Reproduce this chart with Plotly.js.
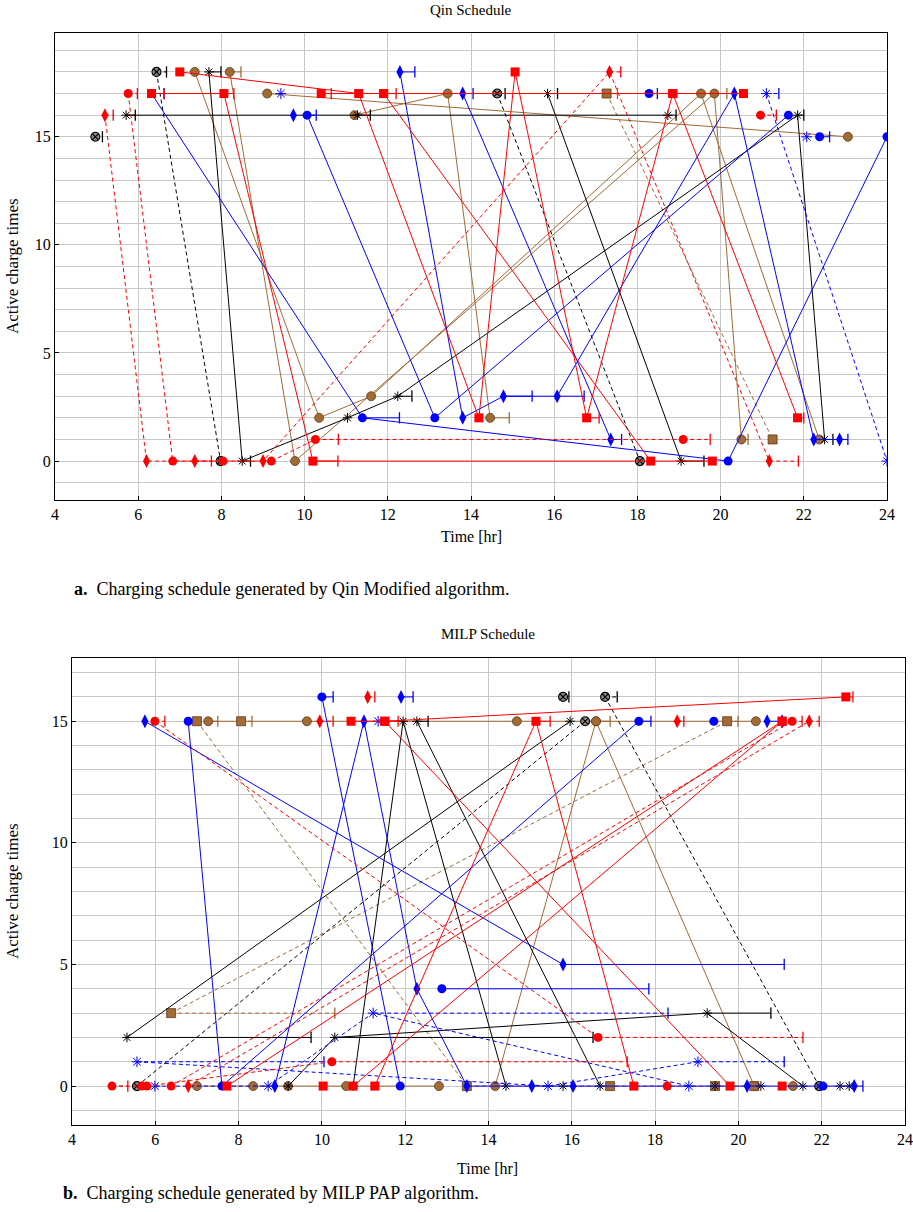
<!DOCTYPE html>
<html>
<head>
<meta charset="utf-8">
<script src="https://cdn.plot.ly/plotly-3.0.1.min.js"></script>
<style>
  body { margin: 0; background: #fff; }
  #chart { width: 913px; height: 1212px; }
</style>
</head>
<body>
<div id="chart"></div>
<script>
// Charging schedules, x = time [hr], y = active charge times, e = charge duration bar

// Qin Modified schedule

var qRedDiaX = [5.2, 6.2, 7.36, 9.0, 17.33, 21.17];
var qRedDiaY = [16, 0, 0, 0, 18, 0];
var qRedDiaE = [0.2, 0, 0.4, 0, 0.27, 0.7];

var qRedCirX = [5.76, 6.83, 8.04, 9.2, 10.26, 19.1, null, 20.96];
var qRedCirY = [17, 0, 0, 0, 1, 1, null, 16];
var qRedCirE = [0.22, 0, 0, 0, 0.55, 0.65, null, 0.38];

var qRedSqX = [6.32, 8.06, 10.2, 19.8, null, 7.0, 11.3, 14.19, 15.06, 16.78, 18.85, 21.85, null, 10.4, 11.9, 18.32, null, 11.9, 18.85, 20.55];
var qRedSqY = [17, 17, 0, 0, null, 18, 17, 2, 18, 2, 17, 2, null, 17, 17, 0, null, 17, 17, 17];
var qRedSqE = [0.3, 0.24, 0.6, 0, null, 0, 0, 0, 0, 0.3, 0, 0.15, null, 0.24, 0.3, 0, null, 0, 0, 0];

var qBlueCirX = [6.32, 11.39, 20.18, 24, null, 10.06, 13.13, 21.63, null, 18.28, null, 22.38];
var qBlueCirY = [17, 2, 0, 15, null, 16, 2, 16, null, 17, null, 15];
var qBlueCirE = [0.3, 0.89, 0, 0, null, 0.22, 0, 0, null, 0.2, null, 0.24];

var qBlueDiaX = [12.29, 13.8, 14.78, 16.07, 20.33, 22.24, 22.86, null, 13.8, 17.36, null, 9.73];
var qBlueDiaY = [18, 2, 3, 3, 17, 1, 1, null, 17, 1, null, 16];
var qBlueDiaE = [0.36, 0, 0.69, 0.65, 0, 0, 0.2, null, 0.25, 0.26, null, 0];

var qBlueStarX = [9.43, null, 21.1, 24, null, 22.07];
var qBlueStarY = [17, null, 17, 0, null, 15];
var qBlueStarE = [0, null, 0.3, 0, null, 0];

var qBlackStarX = [7.7, 8.5, 11.03, 12.24, 21.85, 22.5, null, 5.71, 11.27, 18.73, null, 15.84, 19.05];
var qBlackStarY = [18, 0, 2, 3, 16, 1, null, 16, 16, 16, null, 17, 0];
var qBlackStarE = [0.29, 0.2, 0, 0.34, 0.15, 0.2, null, 0.22, 0.31, 0.2, null, 0.24, 0.55];

var qBlackOtX = [6.44, 7.98, null, 14.63, 18.06, null, 4.97];
var qBlackOtY = [18, 0, null, 17, 0, null, 15];
var qBlackOtE = [0.24, 0, null, 0.19, 0, null, 0.17];

var qBrownCirX = [7.36, 10.35, 11.6, 19.53, 22.37, null, 8.2, 9.77, 19.85, 20.5, null, 9.1, 23.06, null, 11.2, 13.44, 14.46];
var qBrownCirY = [18, 2, 3, 17, 1, null, 18, 0, 17, 1, null, 17, 15, null, 16, 17, 2];
var qBrownCirE = [0, 0, 0, 0, 0, null, 0.27, 0, 0.3, 0.16, null, 0, 0, null, 0, 0, 0.46];

var qBrownSqX = [17.26, 21.25];
var qBrownSqY = [17, 1];
var qBrownSqE = [0.26, 0];

// MILP PAP schedule

var mRedCirX = [5.99, 16.63, null, 6.38, 21.29, null, 5.8, 10.24, null, 4.96, 5.68, null, 18.29];
var mRedCirY = [15, 2, null, 0, 15, null, 0, 1, null, 0, 0, null, 0];
var mRedCirE = [0.24, 4.92, null, 0, 0.24, null, 0, 7.09, null, 0.38, 0, null, 0];

var mRedDiaX = [6.79, 21.7, null, 9.95, null, 11.1, null, 18.53];
var mRedDiaY = [0, 15, null, 15, null, 16, null, 15];
var mRedDiaE = [0, 0.24, null, 0.32, null, 0.17, null, 0.16];

var mRedSqX = [11.27, 15.14, 17.49, null, 10.75, 21.05, null, 7.72, 21.05, null, 10.7, 11.51, 19.8, null, 11.51, 22.58, null, 10.03, null, 21.05];
var mRedSqY = [0, 15, 0, null, 0, 15, null, 0, 15, null, 15, 15, 0, null, 15, 16, null, 0, null, 0];
var mRedSqE = [0, 0.34, 0, null, 0, 0, null, 0, 0, null, 0, 0.32, 0, null, 0, 0.17, null, 0, null, 0];

var mBlueDiaX = [8.87, 11.01, 12.28, 13.48, 15.04, 16.03, 20.21, 22.78, null, 5.75, 15.79, null, 11.9, null, 20.69, 21.05];
var mBlueDiaY = [0, 15, 4, 0, 0, 0, 0, 0, null, 15, 5, null, 16, null, 15, 15];
var mBlueDiaE = [0, 0, 0, 0, 0, 0, 0, 0.21, null, 0, 5.31, null, 0.29, null, 0, 0];

var mBlueCirX = [6.79, 7.6, 17.61, null, 10.0, 11.88, null, 12.88, null, 19.41, null, 22.03];
var mBlueCirY = [15, 0, 15, null, 16, 0, null, 4, null, 15, null, 0];
var mBlueCirE = [0, 0, 0.29, null, 0.27, 0, null, 4.97, null, 0, null, 0];

var mBlueStarX = [5.56, 15.43, 19.03, null, 5.99, 8.71, 11.23, 18.81, null, 11.35];
var mBlueStarY = [1, 0, 1, null, 0, 0, 3, 0, null, 15];
var mBlueStarE = [4.49, 0, 2.07, null, 0, 0, 7.08, 0, null, 0];

var mBlackStarX = [5.32, 15.96, null, 10.75, 11.95, 14.42, null, 12.28, 16.68, null, 9.19, 10.31, 19.25, 21.55,
  null, 15.79, null, 18.29, null, 19.44, null, 20.54, null, 22.44, null, 22.66];
var mBlackStarY = [2, 15, null, 0, 15, 0, null, 15, 0, null, 0, 2, 3, 0,
  null, 0, null, 0, null, 0, null, 0, null, 0, null, 0];
var mBlackStarE = [4.42, 0, null, 0, 0, 0, null, 0.27, 0, null, 0, 6.2, 1.53, 0,
  null, 0, null, 0, null, 0, null, 0, null, 0, null, 0];

var mBlackOtX = [5.56, 16.32, null, 16.8, 21.94, null, 15.79];
var mBlackOtY = [0, 15, null, 16, 0, null, 16];
var mBlackOtE = [0, 0, null, 0.29, 0, null, 0.14];

var mBrownCirX = [14.16, 16.58, 20.38, null, 7.27, 9.64, 14.68, 16.58, 20.42, null, 7.0, 8.35, 9.19, 10.58, 12.81, null, 21.31];
var mBrownCirY = [0, 15, 0, null, 15, 15, 15, 15, 15, null, 0, 0, 0, 0, 0, null, 0];
var mBrownCirE = [0, 0.34, 0, null, 0.23, 0, 0, 0, 0, null, 0, 0, 0, 0, 0, null, 0];

var mBrownSqX = [7.0, 13.48, 16.92, 19.44, 20.38, null, 6.38, 19.73, null, 8.06];
var mBrownSqY = [15, 0, 0, 0, 0, null, 3, 15, null, 15];
var mBrownSqE = [0, 0, 0, 0, 0, null, 3.93, 0.26, null, 0.26];


// colours + marks (pgfplots-ish)
var RED = '#ff0000';
var BLUE = '#0000ff';
var BLACK = '#000000';
var BROWN = '#a26a35';

var FONT = '"Liberation Serif", "DejaVu Serif", serif';

var traces = [];

function addSeries(xs, ys, es, color, symbol, dash, xa, ya, mk) {
  mk = mk || {};
  // duration bars with a cap at the end
  var bx = [], by = [], cx = [], cy = [];
  for (var i = 0; i < xs.length; i++) {
    if (xs[i] === null || !es[i]) continue;
    bx.push(xs[i], xs[i] + es[i], null);
    by.push(ys[i], ys[i], null);
    cx.push(xs[i] + es[i]);
    cy.push(ys[i]);
  }
  traces.push({
    x: bx, y: by, xaxis: xa, yaxis: ya, mode: 'lines',
    line: {color: color, width: 1, dash: dash}, hoverinfo: 'none'
  });
  traces.push({
    x: cx, y: cy, xaxis: xa, yaxis: ya, mode: 'markers',
    marker: {symbol: 'line-ns-open', size: 8, color: color, line: {color: color, width: 1.3}},
    hoverinfo: 'none'
  });
  traces.push({
    x: xs, y: ys, xaxis: xa, yaxis: ya, mode: 'lines+markers',
    connectgaps: false,
    line: {color: color, width: 1, dash: dash},
    marker: {
      symbol: symbol,
      size: mk.size || 8,
      color: mk.fill || color,
      line: {color: mk.edge || color, width: mk.ew === undefined ? 0 : mk.ew}
    },
    hoverinfo: 'none'
  });
}

var DASH = '4px,3px';
var brownMk = {fill: BROWN, edge: '#5e3b18', ew: 0.8, size: 9};
var brownSqMk = {fill: BROWN, edge: '#5e3b18', ew: 0.8, size: 9};
var otMk = {fill: '#8a8a8a', edge: BLACK, ew: 1.1, size: 9};
var starMk = {edge: BLACK, ew: 1, size: 8};
var blueStarMk = {edge: BLUE, ew: 1, size: 9};
var diaMk = {size: 10};
var sqMk = {size: 9};
var cirMk = {size: 9};

// Qin
addSeries(qBrownCirX, qBrownCirY, qBrownCirE, BROWN, 'circle', 'solid', 'x', 'y', brownMk);
addSeries(qBrownSqX, qBrownSqY, qBrownSqE, BROWN, 'square', DASH, 'x', 'y', brownSqMk);
addSeries(qBlackStarX, qBlackStarY, qBlackStarE, BLACK, 'asterisk-open', 'solid', 'x', 'y', starMk);
addSeries(qBlackOtX, qBlackOtY, qBlackOtE, BLACK, 'circle-x', DASH, 'x', 'y', otMk);
addSeries(qBlueCirX, qBlueCirY, qBlueCirE, BLUE, 'circle', 'solid', 'x', 'y', cirMk);
addSeries(qBlueDiaX, qBlueDiaY, qBlueDiaE, BLUE, 'diamond-tall', 'solid', 'x', 'y', diaMk);
addSeries(qBlueStarX, qBlueStarY, qBlueStarE, BLUE, 'asterisk-open', DASH, 'x', 'y', blueStarMk);
addSeries(qRedCirX, qRedCirY, qRedCirE, RED, 'circle', DASH, 'x', 'y', cirMk);
addSeries(qRedDiaX, qRedDiaY, qRedDiaE, RED, 'diamond-tall', DASH, 'x', 'y', diaMk);
addSeries(qRedSqX, qRedSqY, qRedSqE, RED, 'square', 'solid', 'x', 'y', sqMk);

// MILP
addSeries(mBrownCirX, mBrownCirY, mBrownCirE, BROWN, 'circle', 'solid', 'x2', 'y2', brownMk);
addSeries(mBrownSqX, mBrownSqY, mBrownSqE, BROWN, 'square', DASH, 'x2', 'y2', brownSqMk);
addSeries(mBlackStarX, mBlackStarY, mBlackStarE, BLACK, 'asterisk-open', 'solid', 'x2', 'y2', starMk);
addSeries(mBlackOtX, mBlackOtY, mBlackOtE, BLACK, 'circle-x', DASH, 'x2', 'y2', otMk);
addSeries(mBlueCirX, mBlueCirY, mBlueCirE, BLUE, 'circle', 'solid', 'x2', 'y2', cirMk);
addSeries(mBlueDiaX, mBlueDiaY, mBlueDiaE, BLUE, 'diamond-tall', 'solid', 'x2', 'y2', diaMk);
addSeries(mBlueStarX, mBlueStarY, mBlueStarE, BLUE, 'asterisk-open', DASH, 'x2', 'y2', blueStarMk);
addSeries(mRedCirX, mRedCirY, mRedCirE, RED, 'circle', DASH, 'x2', 'y2', cirMk);
addSeries(mRedDiaX, mRedDiaY, mRedDiaE, RED, 'diamond-tall', DASH, 'x2', 'y2', diaMk);
addSeries(mRedSqX, mRedSqY, mRedSqE, RED, 'square', 'solid', 'x2', 'y2', sqMk);


function xAxis(domain, anchor) {
  return {
    domain: domain, anchor: anchor, range: [4, 24], dtick: 2, tick0: 4,
    showgrid: true, gridcolor: '#c8c8c8', gridwidth: 1, zeroline: false,
    showline: true, mirror: true, linecolor: BLACK, linewidth: 1,
    ticks: 'inside', ticklen: 4, tickcolor: BLACK,
    tickfont: {family: FONT, size: 16, color: BLACK}
  };
}

function yAxis(domain, anchor, range) {
  return {
    domain: domain, anchor: anchor, range: range,
    tickvals: [0, 5, 10, 15],
    showgrid: true, gridcolor: '#c8c8c8', gridwidth: 1, zeroline: false,
    minor: {dtick: 1, tick0: 0, showgrid: true, gridcolor: '#c8c8c8', gridwidth: 1},
    showline: true, mirror: true, linecolor: BLACK, linewidth: 1,
    ticks: 'inside', ticklen: 4, tickcolor: BLACK,
    tickfont: {family: FONT, size: 16, color: BLACK}
  };
}

function txt(text, px, py, size, opts) {
  var a = {
    text: text, xref: 'paper', yref: 'paper',
    x: px / 913, y: 1 - py / 1212,
    showarrow: false, font: {family: FONT, size: size, color: BLACK},
    xanchor: 'center', yanchor: 'middle'
  };
  for (var k in (opts || {})) a[k] = opts[k];
  return a;
}

var layout = {
  width: 913, height: 1212,
  margin: {l: 0, r: 0, t: 0, b: 0},
  paper_bgcolor: '#ffffff', plot_bgcolor: '#ffffff',
  showlegend: false,
  font: {family: FONT, color: BLACK},
  xaxis: xAxis([55 / 913, 887 / 913], 'y'),
  yaxis: yAxis([1 - 500 / 1212, 1 - 33 / 1212], 'x', [-1.8, 19.8]),
  xaxis2: xAxis([72 / 913, 905 / 913], 'y2'),
  yaxis2: yAxis([1 - 1125 / 1212, 1 - 658 / 1212], 'x2', [-1.6, 17.6]),
  annotations: [
    txt('Qin Schedule', 471, 10, 15),
    txt('Time [hr]', 471, 536, 16),
    txt('Active charge times', 12, 266, 17, {textangle: -90}),
    txt('<b>a.</b>  Charging schedule generated by Qin Modified algorithm.', 72, 589, 18, {xanchor: 'left'}),
    txt('MILP Schedule', 488, 634, 15),
    txt('Time [hr]', 488, 1168, 16),
    txt('Active charge times', 12, 891, 17, {textangle: -90}),
    txt('<b>b.</b>  Charging schedule generated by MILP PAP algorithm.', 61, 1193, 18, {xanchor: 'left'})
  ]
};

Plotly.newPlot('chart', traces, layout, {staticPlot: true});
</script>
</body>
</html>
